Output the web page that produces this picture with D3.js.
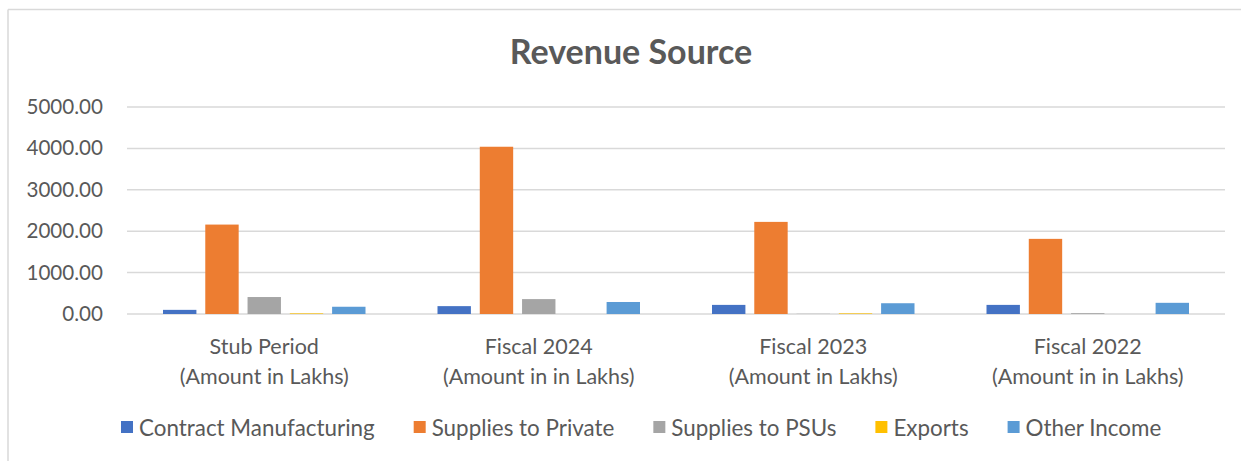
<!DOCTYPE html>
<html>
<head>
<meta charset="utf-8">
<script src="https://cdn.jsdelivr.net/npm/d3@7"></script>
<style>
  body { margin: 0; background: #fff; }
  svg { display: block; font-family: Lato, "Open Sans", sans-serif; }
</style>
</head>
<body>
<svg id="chart" width="1241" height="461"></svg>
<script>
// chart data
const categories = ["Stub Period|(Amount in Lakhs)", "Fiscal 2024|(Amount in in Lakhs)", "Fiscal 2023|(Amount in Lakhs)", "Fiscal 2022|(Amount in in Lakhs)"];
const seriesNames = ["Contract Manufacturing", "Supplies to Private", "Supplies to PSUs", "Exports", "Other Income"];
const contractManufacturing = [100, 190, 220, 220];
const suppliesPrivate = [2160, 4040, 2225, 1815];
const suppliesPSUs = [410, 360, 5, 20];
const exportsVals = [15, 0, 15, 0];
const otherIncome = [175, 290, 260, 270];
const yTicks = [0, 1000, 2000, 3000, 4000, 5000];
const colors = ["#4472C4", "#ED7D31", "#A5A5A5", "#FFC000", "#5B9BD5"];

const allSeries = [contractManufacturing, suppliesPrivate, suppliesPSUs, exportsVals, otherIncome];

const svg = d3.select("#chart");
const textCol = "#595959";

// frame (only left and top edges are visible)
svg.append("line").attr("x1", 8).attr("x2", 8).attr("y1", 9.5).attr("y2", 461)
  .attr("stroke", "#d9d9d9").attr("stroke-width", 1.5);
svg.append("line").attr("x1", 8).attr("x2", 1241).attr("y1", 9.5).attr("y2", 9.5)
  .attr("stroke", "#d9d9d9").attr("stroke-width", 1.5);

// title
svg.append("text")
  .attr("x", 631).attr("y", 64)
  .attr("text-anchor", "middle")
  .attr("font-size", 34).attr("font-weight", "bold")
  .attr("fill", textCol)
  .text("Revenue Source");

// scales
const x0 = d3.scaleBand().domain(categories).range([127, 1225]).paddingInner(0).paddingOuter(0);
const x1 = d3.scaleBand().domain(seriesNames).range([36, x0.bandwidth() - 36]).paddingInner(0.21);
const y = d3.scaleLinear().domain([0, 5000]).range([314, 107]);

// gridlines
svg.append("g")
  .selectAll("line")
  .data(yTicks)
  .enter().append("line")
  .attr("x1", 127).attr("x2", 1225)
  .attr("y1", d => y(d)).attr("y2", d => y(d))
  .attr("stroke", "#d9d9d9").attr("stroke-width", 1.5);

// y axis labels
const yAxis = svg.append("g")
  .attr("transform", "translate(103,0)")
  .call(d3.axisLeft(y).tickValues(yTicks).tickFormat(d3.format(".2f")).tickSize(0).tickPadding(0));
yAxis.select(".domain").remove();
yAxis.selectAll("text")
  .attr("font-family", "Lato, 'Open Sans', sans-serif")
  .attr("font-size", 20.6).attr("fill", textCol);

// bars
const groups = svg.append("g")
  .selectAll("g")
  .data(categories)
  .enter().append("g")
  .attr("transform", d => "translate(" + x0(d) + ",0)");

groups.selectAll("rect")
  .data((d, i) => seriesNames.map((s, j) => ({ s: s, v: allSeries[j][i], c: colors[j] })))
  .enter().append("rect")
  .attr("x", d => x1(d.s))
  .attr("width", x1.bandwidth())
  .attr("y", d => y(d.v))
  .attr("height", d => y(0) - y(d.v))
  .attr("fill", d => d.c);

// category labels
const catLabels = svg.append("g")
  .selectAll("text")
  .data(categories)
  .enter().append("text")
  .attr("text-anchor", "middle")
  .attr("font-size", 21.5).attr("fill", textCol);
catLabels.each(function (d) {
  const parts = d.split("|");
  const cx = x0(d) + x0.bandwidth() / 2;
  d3.select(this).append("tspan").attr("x", cx).attr("y", 354).text(parts[0]);
  d3.select(this).append("tspan").attr("x", cx).attr("y", 384).text(parts[1]);
});

// legend
const legend = svg.append("g");
let lx = 121;
seriesNames.forEach((name, i) => {
  legend.append("rect")
    .attr("x", lx).attr("y", 421).attr("width", 12).attr("height", 12)
    .attr("fill", colors[i]);
  const t = legend.append("text")
    .attr("x", lx + 18).attr("y", 436)
    .attr("font-size", 22.4).attr("fill", textCol)
    .text(name);
  lx += 18 + t.node().getComputedTextLength() + 39;
});
</script>
</body>
</html>
